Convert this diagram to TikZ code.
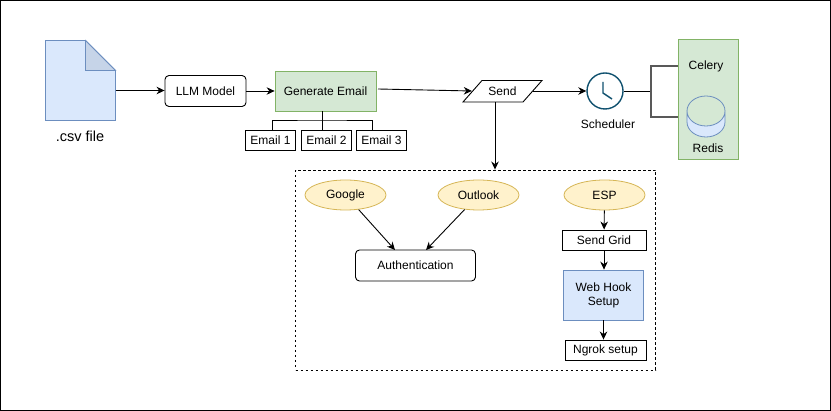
\documentclass[tikz,border=0pt]{standalone}
\usepackage{fontspec}
\setmainfont{Liberation Sans}
\usetikzlibrary{arrows.meta,shapes.geometric}
\definecolor{fileblue}{HTML}{DAE8FC}
\definecolor{fileedge}{HTML}{6C8EBF}
\definecolor{foldblue}{HTML}{C6D4E8}
\definecolor{boxgreen}{HTML}{D5E8D4}
\definecolor{greenedge}{HTML}{82B366}
\definecolor{ovalyellow}{HTML}{FFF2CC}
\definecolor{yellowedge}{HTML}{D6B656}
\definecolor{clockteal}{HTML}{10516F}
\tikzset{
  txt/.style={font=\fontsize{12}{14}\selectfont, inner sep=0pt, align=center},
  plainbox/.style={txt, draw, line width=0.9pt, minimum height=20pt},
  roundbox/.style={txt, draw, line width=0.9pt, rounded corners=4pt, minimum height=31pt},
  oval/.style={txt, draw=yellowedge, fill=ovalyellow, line width=0.8pt, ellipse, minimum width=81pt, minimum height=30pt},
  arr/.style={-{Stealth[length=8pt,width=7.5pt]}, line width=0.9pt},
  link/.style={line width=0.9pt}
}
\begin{document}
\begin{tikzpicture}[x=1pt,y=-1pt]
  \useasboundingbox (0,0) rectangle (831,411);
  \fill[white] (0,0) rectangle (831,411);
  \draw[line width=1.2pt] (0.6,0.6) rectangle (830.4,410.4);

  % csv file
  \draw[fileedge, fill=fileblue, line width=0.8pt] (45.5,40.5) -- (85.5,40.5) -- (115.5,70.5) -- (115.5,120.5) -- (45.5,120.5) -- cycle;
  \draw[fileedge, fill=foldblue, line width=0.8pt] (85.5,40.5) -- (115.5,70.5) -- (85.5,70.5) -- cycle;
  \coordinate (csvout) at (115.5,90.5);
  \node[txt, font=\fontsize{14.5}{16}\selectfont] (csvlabel) at (80,136) {.csv file};

  % top row
  \node[roundbox, minimum width=81pt] (llm) at (205.5,91) {LLM Model};
  \node[txt, draw=greenedge, fill=boxgreen, minimum width=101pt, minimum height=40pt, line width=0.8pt] (gen) at (325.5,91) {Generate Email};
  \node[plainbox, minimum width=50pt] (emailone) at (270.5,140.5) {Email 1};
  \node[plainbox, minimum width=50pt] (emailtwo) at (326.5,140.5) {Email 2};
  \node[plainbox, minimum width=50pt] (emailthree) at (381.5,140.5) {Email 3};
  \draw[line width=0.9pt] (463,102) -- (482,80.5) -- (542,80.5) -- (523,102) -- cycle;
  \node[txt, minimum width=61pt, minimum height=22pt] (send) at (502.5,91) {Send};
  \node[circle, draw=clockteal, line width=1.4pt, minimum size=36pt, inner sep=0pt] (clock) at (605,91) {};
  \node[txt] (sched) at (608,124.5) {Scheduler};
  \draw[clockteal, line width=1.4pt] (603,82) -- (603,93) -- (612,99);

  % celery and redis
  \node[draw=greenedge, fill=boxgreen, minimum width=60pt, minimum height=120pt, line width=0.8pt, inner sep=0pt] (workers) at (708,99) {};
  \node[txt] (celery) at (706,66) {Celery};
  \node[txt] (redis) at (708,148) {Redis};
  \draw[fileedge, fill=fileblue, line width=0.8pt] (687,111) arc[start angle=180, end angle=0, x radius=19, y radius=15] -- (725,122) arc[start angle=0, end angle=180, x radius=19, y radius=15] -- cycle;
  \draw[fileedge, line width=0.8pt] (687,111) arc[start angle=180, end angle=360, x radius=19, y radius=15];

  % dashed group
  \node[draw, dash pattern=on 2.5pt off 2.5pt, line width=0.9pt, minimum width=360pt, minimum height=200pt, inner sep=0pt] (group) at (475.5,270) {};
  \node[oval] (google) at (345.5,195) {Google};
  \node[oval] (outlook) at (478.5,195) {Outlook};
  \node[oval] (esp) at (604.5,195) {ESP};
  \node[roundbox, minimum width=120pt] (auth) at (415.5,265.5) {Authentication};
  \node[plainbox, minimum width=84pt] (grid) at (604,240) {Send Grid};
  \node[txt, draw=fileedge, fill=fileblue, minimum width=80pt, minimum height=50pt, line width=0.8pt] (hook) at (603.5,295) {Web Hook\\Setup};
  \node[plainbox, minimum width=81pt] (ngrok) at (605.5,350) {Ngrok setup};

  \coordinate (genout) at (378,89);
  \coordinate (sendout) at (495,102);
  \coordinate (authleft) at (395,250);
  \coordinate (authright) at (426,250);
  \coordinate (fork) at (651,91);
  \coordinate (forkup) at (678,66);
  \coordinate (forkdown) at (678,117);
  \coordinate (genfork) at (322,120);
  \coordinate (treeleft) at (272,130);
  \coordinate (treeright) at (372,130);

  \draw[arr] (csvout) -- (llm.west |- csvout);
  \draw[arr] (llm) -- (gen);
  \draw[arr] (genout) -- (send.west);
  \draw[arr] (send.east) -- (clock.west);
  \draw[arr] (sendout) -- (sendout |- group.north);
  \draw[link] (clock.east) -- (fork);
  \draw[link, black!65, line width=1.3pt] (fork) |- (forkup);
  \draw[link, black!65, line width=1.3pt] (fork) |- (forkdown);
  \draw[link] (genfork |- gen.south) -- (genfork |- emailtwo.north);
  \draw[link] (treeleft) |- (genfork) -| (treeright);

  \draw[arr] (google) -- (authleft);
  \draw[arr] (outlook) -- (authright);
  \draw[arr] (esp) -- (grid);
  \draw[arr] (grid) -- (grid |- hook.north);
  \draw[arr] (hook) -- (hook |- ngrok.north);
\end{tikzpicture}
\end{document}
